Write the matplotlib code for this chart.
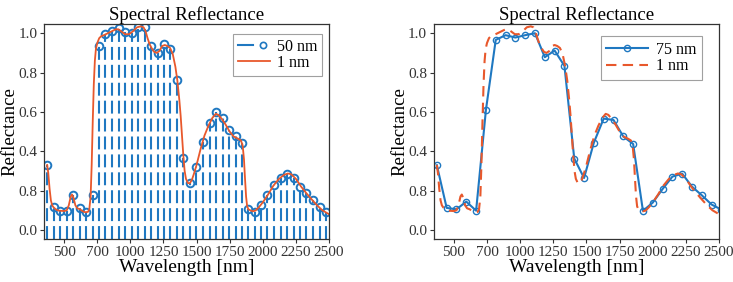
import matplotlib.pyplot as plt
from matplotlib.lines import Line2D
from matplotlib.legend_handler import HandlerBase

# 50 nm samples (left panel)
wl_50 = [373, 423, 471, 520, 570, 620, 668, 717, 764, 812, 863, 913, 961, 1009, 1060,
         1108, 1158, 1206, 1255, 1302, 1353, 1401, 1448, 1499, 1547, 1598, 1645, 1696,
         1744, 1795, 1840, 1888, 1939, 1986, 2035, 2085, 2136, 2183, 2234, 2282, 2330,
         2380, 2429, 2479]
refl_50 = [0.329, 0.119, 0.097, 0.097, 0.178, 0.110, 0.090, 0.178, 0.937, 0.995, 1.012,
           1.024, 1.005, 1.003, 1.034, 1.030, 0.936, 0.898, 0.944, 0.920, 0.763, 0.366,
           0.237, 0.322, 0.449, 0.542, 0.598, 0.568, 0.508, 0.475, 0.441, 0.105, 0.093,
           0.127, 0.180, 0.229, 0.266, 0.286, 0.266, 0.217, 0.186, 0.153, 0.115, 0.092]

# 75 nm samples (right panel)
wl_75 = [372, 446, 520, 594, 668, 742, 816, 890, 964, 1038, 1112, 1186, 1260, 1334,
         1408, 1482, 1556, 1630, 1704, 1778, 1852, 1926, 2000, 2074, 2148, 2222, 2296,
         2370, 2444, 2518]
refl_75 = [0.329, 0.112, 0.105, 0.144, 0.098, 0.610, 0.966, 0.990, 0.978, 0.990, 1.000,
           0.878, 0.912, 0.834, 0.363, 0.264, 0.444, 0.566, 0.559, 0.475, 0.437, 0.097,
           0.139, 0.208, 0.271, 0.286, 0.220, 0.176, 0.129, 0.103]

# 1 nm spectrum
wl_1 = [372, 380, 390, 400, 410, 420, 440, 460, 480, 500, 520, 535, 550, 560, 570, 585,
        600, 620, 640, 660, 680, 690, 700, 708, 716, 724, 732, 740, 750, 765, 780, 800,
        830, 860, 890, 910, 930, 960, 990, 1020, 1050, 1080, 1100, 1115, 1130, 1145,
        1160, 1180, 1200, 1220, 1240, 1260, 1280, 1300, 1320, 1340, 1355, 1370, 1380,
        1390, 1400, 1410, 1420, 1435, 1450, 1465, 1480, 1500, 1530, 1560, 1590, 1620,
        1645, 1665, 1690, 1720, 1750, 1780, 1810, 1835, 1848, 1858, 1866, 1874, 1882,
        1892, 1905, 1925, 1945, 1970, 2000, 2040, 2080, 2120, 2160, 2190, 2215, 2250,
        2290, 2330, 2370, 2410, 2450, 2480, 2500]
refl_1 = [0.33, 0.29, 0.21, 0.15, 0.125, 0.115, 0.103, 0.098, 0.097, 0.096, 0.100, 0.125,
          0.170, 0.180, 0.165, 0.125, 0.110, 0.105, 0.095, 0.090, 0.092, 0.105, 0.17,
          0.33, 0.55, 0.74, 0.86, 0.92, 0.95, 0.975, 0.985, 0.990, 1.000, 1.010, 1.020,
          1.020, 1.010, 0.995, 0.995, 1.010, 1.030, 1.035, 1.030, 1.010, 0.975, 0.945,
          0.925, 0.905, 0.900, 0.910, 0.935, 0.940, 0.935, 0.925, 0.895, 0.830, 0.760,
          0.660, 0.580, 0.480, 0.380, 0.300, 0.260, 0.238, 0.238, 0.255, 0.285, 0.330,
          0.410, 0.480, 0.530, 0.570, 0.590, 0.585, 0.565, 0.535, 0.500, 0.475, 0.465,
          0.455, 0.430, 0.360, 0.260, 0.170, 0.120, 0.105, 0.100, 0.095, 0.098, 0.115,
          0.140, 0.180, 0.225, 0.258, 0.280, 0.287, 0.283, 0.260, 0.220, 0.186, 0.155,
          0.125, 0.100, 0.088, 0.080]

xtick_pos = [500, 750, 1000, 1250, 1500, 1750, 2000, 2250, 2500]
xtick_lab = ["500", "700", "1000", "1250", "1500", "1750", "2000", "2250", "2500"]
ytick_pos = [0.0, 0.2, 0.4, 0.6, 0.8, 1.0]
ytick_lab = ["0.0", "0.8", "0.4", "0.6", "0.8", "1.0"]

blue = '#1f78c1'
orange = '#e8582c'


# legend entry for the stems: short line, then an open circle
class StemHandler(HandlerBase):
    def create_artists(self, legend, orig, xdescent, ydescent, width, height, fontsize, trans):
        y = height / 2 - ydescent
        ln = Line2D([-xdescent, -xdescent + 0.45 * width], [y, y], color=blue, lw=1.5,
                    transform=trans)
        mk = Line2D([-xdescent + 0.78 * width], [y], color=blue, marker='o', ms=4.5,
                    mfc='none', mew=1.2, linestyle='none', transform=trans)
        return [ln, mk]


plt.rcParams['font.family'] = ['Liberation Serif', 'DejaVu Serif']
plt.rcParams['axes.edgecolor'] = '#333333'
plt.rcParams['xtick.color'] = '#333333'
plt.rcParams['ytick.color'] = '#333333'

fig = plt.figure(figsize=(7.33, 2.82), dpi=100)
ax1 = fig.add_axes([0.0604, 0.1525, 0.3884, 0.7625])
ax2 = fig.add_axes([0.592, 0.1525, 0.389, 0.7625])

ylo, yhi = -0.046, 1.047

# left: stem plot of 50 nm samples
markerline, stemlines, baseline = ax1.stem(wl_50, refl_50, bottom=ylo)
plt.setp(stemlines, color=blue, linewidth=1.5, linestyle=(0, (6.2, 2.4)))
plt.setp(markerline, color=blue, markerfacecolor='none', markersize=5.5, markeredgewidth=1.4)
baseline.set_visible(False)
line1, = ax1.plot(wl_1, refl_1, color=orange, linewidth=1.3)
stem_proxy = Line2D([], [], color=blue)
leg1 = ax1.legend([stem_proxy, line1], ['50 nm', '1 nm'], handler_map={stem_proxy: StemHandler()},
                  loc='upper right', bbox_to_anchor=(0.975, 0.953), borderaxespad=0,
                  fontsize=11.5, fancybox=False, edgecolor='#888888', handlelength=2.0,
                  handletextpad=0.4, borderpad=0.3, labelspacing=0.0)

# right: 75 nm line with markers
ax2.plot(wl_75, refl_75, color=blue, linewidth=1.5, marker='o', markerfacecolor='none',
         markersize=4.5, markeredgewidth=1.0, label='75 nm')
ax2.plot(wl_1, refl_1, color=orange, linewidth=1.5, linestyle=(0, (5, 3)), label='1 nm')
leg2 = ax2.legend(loc='upper right', bbox_to_anchor=(0.94, 0.944), borderaxespad=0,
                  fontsize=11.5, fancybox=False, edgecolor='#888888', handlelength=2.6,
                  handletextpad=0.5, borderpad=0.35, labelspacing=0.05)

for leg in (leg1, leg2):
    leg.get_frame().set_linewidth(0.8)

for ax in (ax1, ax2):
    ax.set_xlim(350, 2500)
    ax.set_ylim(ylo, yhi)
    ax.set_xticks(xtick_pos)
    ax.set_xticklabels(xtick_lab)
    ax.set_yticks(ytick_pos)
    ax.set_yticklabels(ytick_lab)
    ax.tick_params(labelsize=11, length=3, width=0.8, pad=2)
    ax.set_title('Spectral Reflectance', fontsize=13.5, pad=3)
    ax.set_xlabel('Wavelength [nm]', fontsize=14, labelpad=0)
    ax.set_ylabel('Reflectance', fontsize=13.5)
    ax.yaxis.set_label_coords(-0.089, 0.5)
    for s in ax.spines.values():
        s.set_linewidth(0.9)

fig.savefig('out.png', dpi=100)
